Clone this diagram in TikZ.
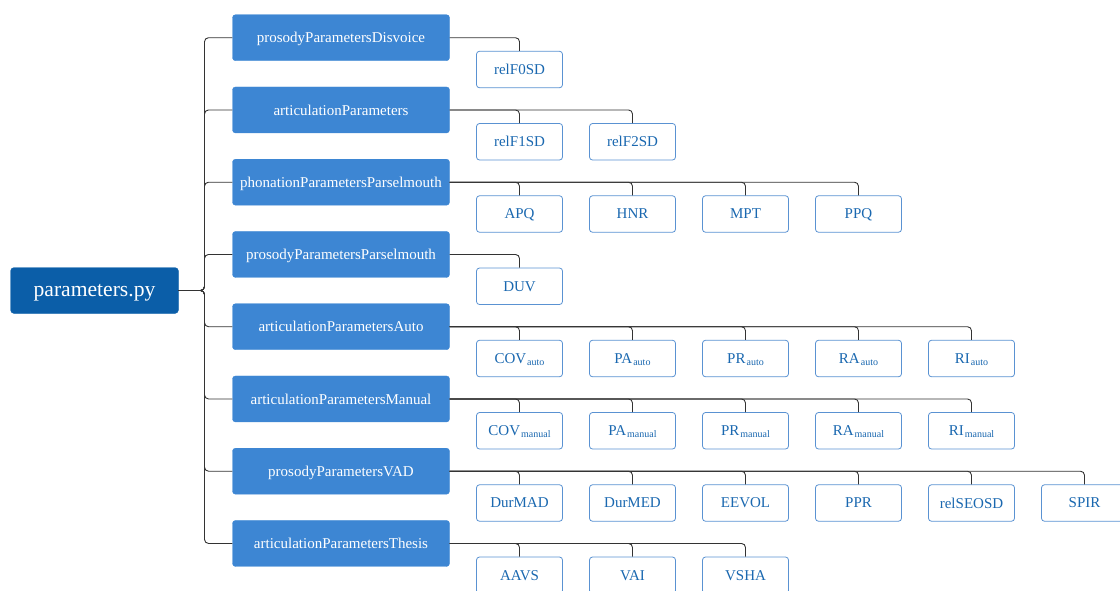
\documentclass[tikz,border=0pt]{standalone}
\usepackage{fontspec}
\setmainfont{Liberation Serif}
\definecolor{rootc}{HTML}{0B5EA8}
\definecolor{catc}{HTML}{3D86D3}
\definecolor{leafb}{HTML}{5A92D2}
\definecolor{leaft}{HTML}{1A68B0}
\definecolor{linec}{HTML}{333333}
\newcommand{\mysub}[1]{\kern1pt\raisebox{-2pt}{\fontsize{10}{12}\selectfont #1}}
\begin{document}
\begin{tikzpicture}[x=1pt,y=-1pt,
  rootbox/.style={draw=rootc, fill=rootc, rounded corners=3pt, minimum width=167.6pt, minimum height=45.6pt, inner sep=0pt, text depth=0pt, text=white, font=\fontsize{21.6}{24}\selectfont},
  catbox/.style={draw=catc, fill=catc, rounded corners=3pt, minimum width=217pt, minimum height=46pt, inner sep=0pt, text depth=0pt, text=white, font=\fontsize{15}{18}\selectfont},
  leafbox/.style={draw=leafb, fill=white, line width=0.8pt, rounded corners=3pt, minimum width=86pt, minimum height=36.5pt, inner sep=0pt, text depth=0pt, text=leaft, font=\fontsize{15}{18}\selectfont},
  conn/.style={draw=linec, line width=0.9pt, rounded corners=4pt}]
\useasboundingbox (0,0) rectangle (1120,590);
\node[rootbox] (root) at (94.5,290.5) {parameters.py};
\coordinate (bus) at (204.5,290.5);
\foreach \name/\leaves [count=\i from 0] in {
  prosodyParametersDisvoice/{relF0SD},
  articulationParameters/{relF1SD,relF2SD},
  phonationParametersParselmouth/{APQ,HNR,MPT,PPQ},
  prosodyParametersParselmouth/{DUV},
  articulationParametersAuto/{COV\mysub{auto},PA\mysub{auto},PR\mysub{auto},RA\mysub{auto},RI\mysub{auto}},
  articulationParametersManual/{COV\mysub{manual},PA\mysub{manual},PR\mysub{manual},RA\mysub{manual},RI\mysub{manual}},
  prosodyParametersVAD/{DurMAD,DurMED,EEVOL,PPR,relSEOSD,SPIR},
  articulationParametersThesis/{AAVS,VAI,VSHA}} {
  \pgfmathsetmacro{\cy}{37.7+72.25*\i}
  \node[catbox] (c\i) at (341,\cy) {\name};
  \draw[conn] (root.east) -- (bus) |- (c\i.west);
  \foreach \lf [count=\j from 0] in \leaves {
    \node[leafbox] (l\i-\j) at (519.5+113*\j,\cy+31.8) {\lf};
    \draw[conn] (c\i.east) -| (l\i-\j.north);
  }
}
\end{tikzpicture}
\end{document}
